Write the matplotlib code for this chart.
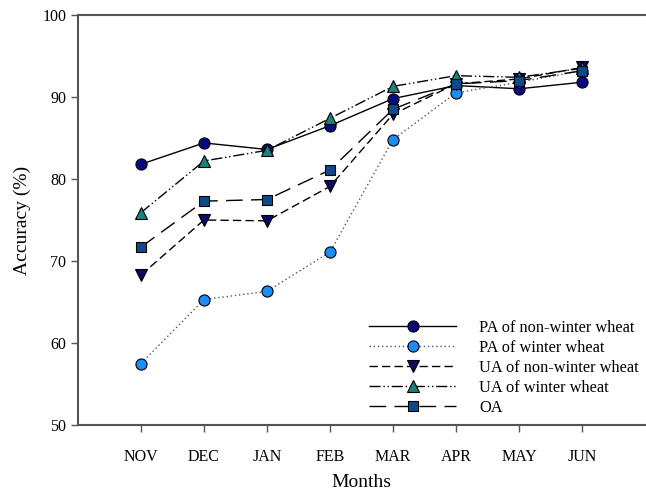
"""
Monthly classification accuracy for winter / non-winter wheat.
"""

import matplotlib
matplotlib.use("Agg")
import matplotlib.pyplot as plt

months = ["NOV", "DEC", "JAN", "FEB", "MAR", "APR", "MAY", "JUN"]
pa_non_winter = [81.8, 84.4, 83.6, 86.5, 89.8, 91.4, 91.0, 91.8]
pa_winter     = [57.5, 65.3, 66.3, 71.1, 84.8, 90.5, 91.8, 93.2]
ua_non_winter = [68.3, 75.0, 74.9, 79.1, 87.9, 91.6, 92.2, 93.6]
ua_winter     = [75.9, 82.2, 83.5, 87.4, 91.3, 92.6, 92.4, 93.5]
oa            = [71.7, 77.3, 77.5, 81.1, 88.5, 91.6, 92.0, 93.2]

plt.rcParams["font.family"] = ["Liberation Serif", "DejaVu Serif"]

fig = plt.figure(figsize=(6.46, 4.95), dpi=100)
ax = fig.add_axes([78 / 646, 70 / 495, 567 / 646, 410 / 495])

x = list(range(1, len(months) + 1))
ms = 8

ax.plot(x, pa_non_winter, color="black", lw=1.0, ls="-",
        marker="o", ms=ms, mfc="#0a0a80", mec="black", mew=0.8,
        label="PA of non-winter wheat")
ax.plot(x, pa_winter, color="#555555", lw=1.0, ls=(0, (1, 2)),
        marker="o", ms=ms, mfc="#1e8cf5", mec="black", mew=0.8,
        label="PA of winter wheat")
ax.plot(x, ua_non_winter, color="black", lw=1.0, ls=(0, (6, 3)),
        marker="v", ms=ms, mfc="#0a0a60", mec="black", mew=0.8,
        label="UA of non-winter wheat")
ax.plot(x, ua_winter, color="black", lw=1.0, ls=(0, (8, 2, 1, 2, 1, 2)),
        marker="^", ms=ms, mfc="#1f8080", mec="black", mew=0.8,
        label="UA of winter wheat")
ax.plot(x, oa, color="black", lw=1.0, ls=(0, (12, 6)),
        marker="s", ms=ms - 1, mfc="#0e4a8a", mec="black", mew=0.8,
        label="OA")

ax.set_xlim(0, 9)
ax.set_ylim(50, 100)
ax.set_xticks(x)
ax.set_xticklabels(months)
ax.set_yticks(range(50, 101, 10))

for side in ["left", "bottom", "top"]:
    ax.spines[side].set_color("#555555")
    ax.spines[side].set_linewidth(1.5)
ax.spines["right"].set_visible(False)
ax.tick_params(direction="out", length=5, width=1, colors="#555555",
               labelcolor="black", labelsize=11.5)
ax.tick_params(axis="x", pad=12)

ax.set_xlabel("Months", fontsize=14, labelpad=7)
ax.set_ylabel("Accuracy (%)", fontsize=14, labelpad=8)

ax.legend(loc="lower right", bbox_to_anchor=(1.012, -0.01), frameon=False,
          fontsize=11.8, handlelength=5.3, handletextpad=1.4,
          labelspacing=0.25, borderaxespad=0.4)

fig.savefig("out.png", dpi=100)
